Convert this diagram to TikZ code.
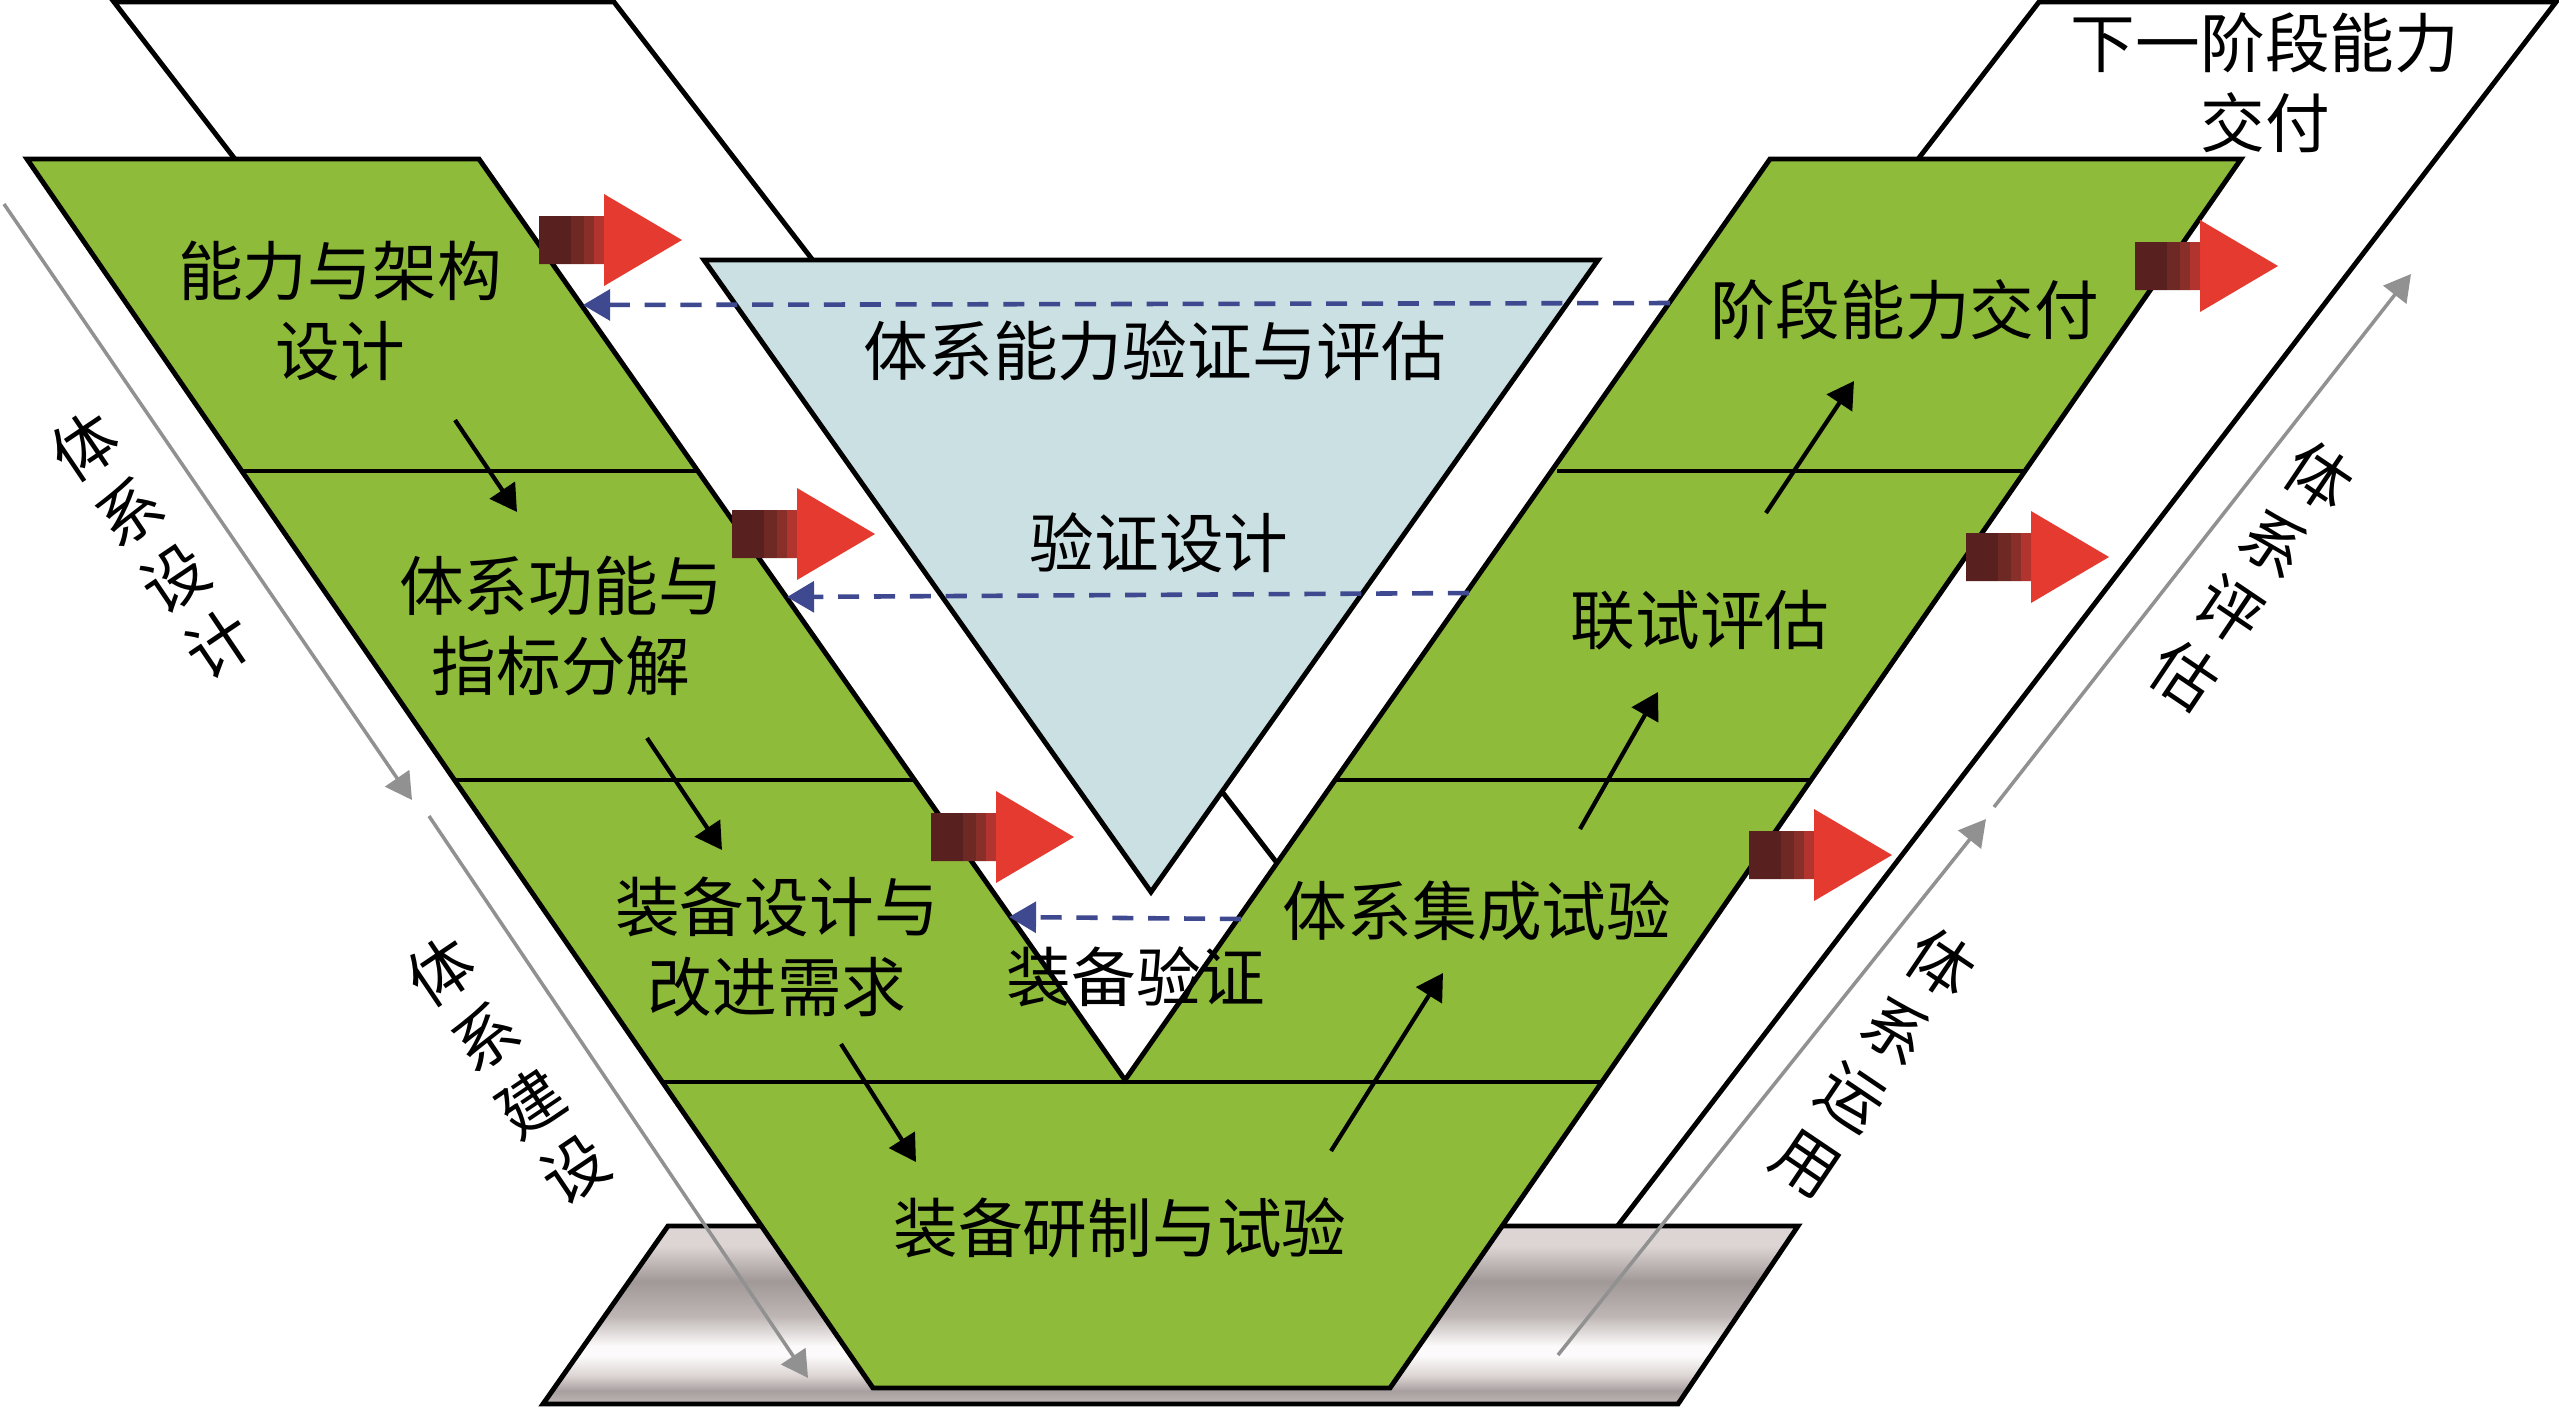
\documentclass[tikz,border=0pt]{standalone}
\usepackage{fontspec}
\newfontfamily\cjk{Noto Sans CJK SC}
\usetikzlibrary{arrows.meta}
\definecolor{vgreen}{RGB}{143,187,59}
\definecolor{vblue}{RGB}{203,224,227}
\definecolor{dashblue}{RGB}{62,73,143}
\definecolor{guidegray}{RGB}{145,145,145}
\definecolor{pfA}{RGB}{220,213,211}
\definecolor{pfB}{RGB}{160,153,151}
\definecolor{pfC}{RGB}{190,182,180}
\definecolor{pfD}{RGB}{252,250,250}
\definecolor{pfE}{RGB}{168,160,160}
\definecolor{arA}{RGB}{88,33,31}
\definecolor{arB}{RGB}{110,41,37}
\definecolor{arC}{RGB}{137,47,42}
\definecolor{arD}{RGB}{178,52,46}
\definecolor{arE}{RGB}{228,58,48}
\pgfdeclareverticalshading{platform}{100bp}{color(0bp)=(pfC); color(25bp)=(pfC); color(28.7bp)=(pfE); color(33bp)=(pfA); color(38.5bp)=(pfD); color(41.3bp)=(pfD); color(49.7bp)=(pfC); color(59.5bp)=(pfB); color(69.4bp)=(pfA); color(75bp)=(pfA); color(100bp)=(pfA)}
\pgfdeclarehorizontalshading{redarrow}{100bp}{color(0bp)=(arA); color(36bp)=(arA); color(36.1bp)=(arB); color(40.5bp)=(arB); color(40.6bp)=(arC); color(44bp)=(arC); color(44.1bp)=(arD); color(47.5bp)=(arD); color(47.6bp)=(arE); color(100bp)=(arE)}

\begin{document}
\begin{tikzpicture}
  [x=0.01cm, y=-0.01cm,
   frame/.style={draw=black, line width=1.4pt, line join=miter},
   txt/.style={node font=\cjk\fontsize{18.4}{22.7}\selectfont, align=center, inner sep=0pt},
   flow/.style={line width=1.2pt, arrows={-Triangle[length=7.5pt, width=8.5pt]}},
   verify/.style={draw=dashblue, line width=1.3pt, dash pattern=on 6pt off 4.2pt, arrows={-Triangle[length=7.7pt, width=8.7pt]}},
   guide/.style={draw=guidegray, line width=1pt, arrows={-Triangle[length=7.5pt, width=8.2pt]}}]
  \useasboundingbox (0,0) rectangle (2559,1408);

  \draw[frame, fill=white] (114,2) -- (614,2) -- (1498,1150) -- (998,1150) -- cycle;
  \draw[frame, fill=white] (2039,2) -- (2556,2) -- (1616,1228) -- (1095,1228) -- cycle;
  \shade[frame, shading=platform] (668,1226) -- (1798,1226) -- (1678,1404) -- (543,1404) -- cycle;

  \draw[frame, fill=vgreen] (27,159) -- (479,159) -- (1125,1080) -- (1770,159) -- (2241,159)
    -- (1390,1388) -- (873,1388) -- cycle;
  \draw[frame] (242,471) -- (697,471) (454,780) -- (913,780)
    (1557,471) -- (2023,471) (1335,780) -- (1811,780) (663,1082) -- (1603,1082);
  \draw[frame, fill=vblue] (704,260) -- (1598,260) -- (1151,892) -- cycle;

  \foreach \ax/\ay in {539/240, 732/534, 931/837, 2135/266, 1966/557, 1749/855}
    \shade[shading=redarrow] (\ax,\ay-24) -- ++(65,0) -- ++(0,-22) -- ++(78,46)
      -- ++(-78,46) -- ++(0,-22) -- ++(-65,0) -- cycle;

  \node[txt] (arch) at (340,311) {能力与架构\\设计};
  \node[txt] (func) at (561,626) {体系功能与\\指标分解};
  \node[txt] (equip) at (777,947) {装备设计与\\改进需求};
  \node[txt] (dev) at (1120,1228) {装备研制与试验};
  \node[txt] (everif) at (1136,977) {装备验证};
  \node[txt] (integ) at (1477,911) {体系集成试验};
  \node[txt] (joint) at (1700,620) {联试评估};
  \node[txt] (stage) at (1905,310) {阶段能力交付};
  \node[txt] (next) at (2265,83) {下一阶段能力\\交付};
  \node[txt] (evalt) at (1155,351) {体系能力验证与评估};
  \node[txt] (vdes) at (1159,543) {验证设计};

  \node[txt, rotate=34] (sysdes) at (152,545) {体\\系\\设\\计};
  \node[txt, rotate=34] (sysbuild) at (508,1070) {体\\系\\建\\设};
  \node[txt, rotate=-34] (syseval) at (2252,576) {体\\系\\评\\估};
  \node[txt, rotate=-34] (sysuse) at (1874,1063) {体\\系\\运\\用};

  \coordinate (a1s) at (455,420);  \coordinate (a1e) at (517,512);
  \coordinate (a2s) at (647,738);  \coordinate (a2e) at (722,850);
  \coordinate (a3s) at (841,1044); \coordinate (a3e) at (916,1162);
  \coordinate (a4s) at (1331,1151); \coordinate (a4e) at (1443,973);
  \coordinate (a5s) at (1580,829); \coordinate (a5e) at (1658,692);
  \coordinate (a6s) at (1766,513); \coordinate (a6e) at (1854,381);
  \coordinate (d1s) at (1670,303); \coordinate (d1e) at (583,305);
  \coordinate (d2s) at (1469,593); \coordinate (d2e) at (787,597);
  \coordinate (d3s) at (1241,919); \coordinate (d3e) at (1009,917);
  \coordinate (g1s) at (4,204);    \coordinate (g1e) at (412,800);
  \coordinate (g2s) at (429,816);  \coordinate (g2e) at (808,1378);
  \coordinate (g3s) at (1558,1355); \coordinate (g3e) at (1986,819);
  \coordinate (g4s) at (1994,807); \coordinate (g4e) at (2411,274);

  \foreach \from/\to in {a1s/a1e, a2s/a2e, a3s/a3e, a4s/a4e, a5s/a5e, a6s/a6e}
  \path (\from) edge [flow] (\to);
  \foreach \from/\to in {d1s/d1e, d2s/d2e, d3s/d3e}
  \path (\from) edge [verify] (\to);
  \foreach \from/\to in {g1s/g1e, g2s/g2e, g3s/g3e, g4s/g4e}
  \path (\from) edge [guide] (\to);
\end{tikzpicture}
\end{document}
